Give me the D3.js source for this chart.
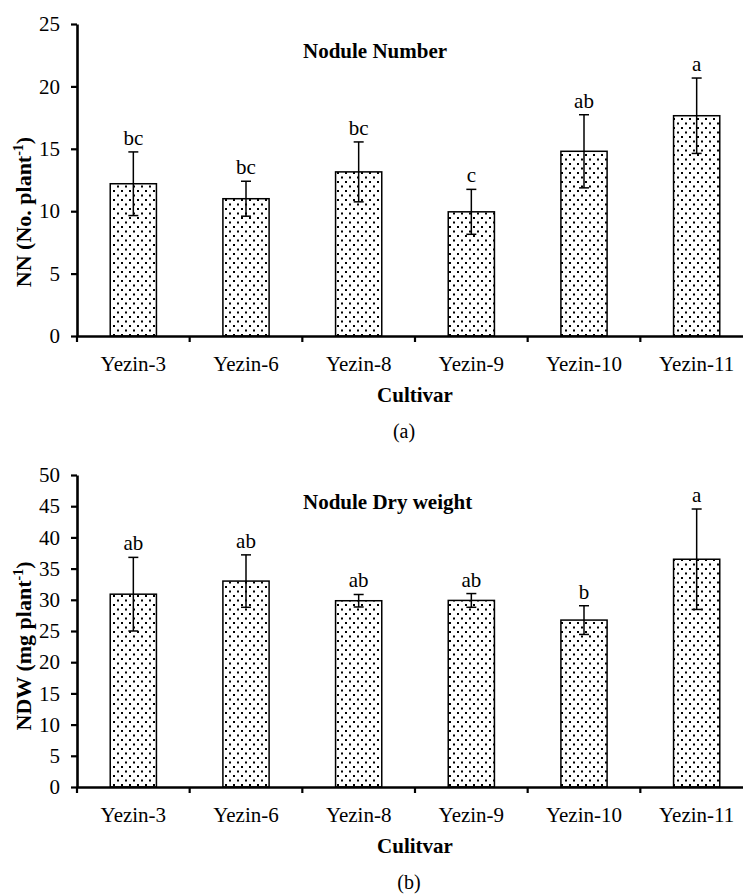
<!DOCTYPE html>
<html>
<head>
<meta charset="utf-8">
<script src="https://cdn.jsdelivr.net/npm/d3@7"></script>
<style>
  body { margin: 0; background: #fff; }
  svg { display: block; }
</style>
</head>
<body>
<svg id="chart" width="743" height="894"></svg>
<script>
const cultivars = ["Yezin-3", "Yezin-6", "Yezin-8", "Yezin-9", "Yezin-10", "Yezin-11"];

// nodule number (a)
const nnMeans = [12.2, 11.0, 13.15, 9.95, 14.8, 17.65];
const nnErrors = [2.55, 1.4, 2.4, 1.8, 2.93, 3.02];
const nnLetters = ["bc", "bc", "bc", "c", "ab", "a"];
const nnTicks = [0, 5, 10, 15, 20, 25];

// nodule dry weight (b)
const ndwMeans = [30.9, 33.0, 29.85, 29.9, 26.75, 36.5];
const ndwErrors = [5.9, 4.2, 1.0, 1.1, 2.3, 8.05];
const ndwLetters = ["ab", "ab", "ab", "ab", "b", "a"];
const ndwTicks = [0, 5, 10, 15, 20, 25, 30, 35, 40, 45, 50];

const svg = d3.select("#chart");
const font = "Liberation Serif, Tinos, Times New Roman, Times, DejaVu Serif, serif";

// dotted fill like the excel pattern
const pat = svg.append("defs").append("pattern")
  .attr("id", "dots")
  .attr("patternUnits", "userSpaceOnUse")
  .attr("width", 8)
  .attr("height", 9);
pat.append("rect").attr("width", 8).attr("height", 9).attr("fill", "#fff");
pat.append("rect").attr("x", 1).attr("y", 1).attr("width", 2).attr("height", 2).attr("fill", "#000");
pat.append("rect").attr("x", 5).attr("y", 5.5).attr("width", 2).attr("height", 2).attr("fill", "#000");

function drawPanel(p) {
  const g = svg.append("g");

  const x = d3.scaleBand()
    .domain(cultivars)
    .range([77, 753])
    .padding(0);

  const y = d3.scaleLinear()
    .domain([0, d3.max(p.ticks)])
    .range([p.bottom, p.top]);

  const barW = x.bandwidth() * 0.41;
  const data = cultivars.map((c, i) => ({ c, m: p.means[i], e: p.errors[i], l: p.letters[i] }));

  // bars
  g.selectAll("rect.bar")
    .data(data)
    .enter()
    .append("rect")
    .attr("class", "bar")
    .attr("x", d => x(d.c) + (x.bandwidth() - barW) / 2)
    .attr("y", d => y(d.m))
    .attr("width", barW)
    .attr("height", d => y(0) - y(d.m))
    .attr("fill", "url(#dots)")
    .attr("stroke", "#000")
    .attr("stroke-width", 1.5);

  // error bars
  const cx = d => x(d.c) + x.bandwidth() / 2;
  const eb = g.selectAll("g.err").data(data).enter().append("g").attr("class", "err")
    .attr("stroke", "#000").attr("stroke-width", 1.5);
  eb.append("line")
    .attr("x1", cx).attr("x2", cx)
    .attr("y1", d => y(d.m - d.e)).attr("y2", d => y(d.m + d.e));
  eb.append("line")
    .attr("x1", d => cx(d) - 5).attr("x2", d => cx(d) + 5)
    .attr("y1", d => y(d.m + d.e)).attr("y2", d => y(d.m + d.e));
  eb.append("line")
    .attr("x1", d => cx(d) - 5).attr("x2", d => cx(d) + 5)
    .attr("y1", d => y(d.m - d.e)).attr("y2", d => y(d.m - d.e));

  // significance letters
  g.selectAll("text.letter")
    .data(data)
    .enter()
    .append("text")
    .attr("class", "letter")
    .attr("x", cx)
    .attr("y", d => y(d.m + d.e) - 7)
    .attr("text-anchor", "middle")
    .style("font-family", font)
    .style("font-size", "21px")
    .text(d => d.l);

  // y axis
  const yAxisG = g.append("g")
    .attr("transform", "translate(77,0)")
    .call(d3.axisLeft(y).tickValues(p.ticks).tickSize(6).tickSizeOuter(0).tickPadding(11));
  yAxisG.select(".domain").attr("stroke-width", 2.6);
  yAxisG.selectAll(".tick line").attr("stroke-width", 2.2);
  yAxisG.selectAll(".tick text")
    .style("font-family", font)
    .style("font-size", "21px")
    .attr("fill", "#000");

  // x axis: labels at band centres, ticks on band edges
  const xAxisG = g.append("g")
    .attr("transform", `translate(0,${p.bottom})`)
    .call(d3.axisBottom(x).tickSize(0).tickSizeOuter(0));
  xAxisG.select(".domain").attr("stroke-width", 2.6);
  xAxisG.selectAll(".tick text")
    .attr("y", 35)
    .attr("dy", null)
    .style("font-family", font)
    .style("font-size", "21px")
    .attr("fill", "#000");
  xAxisG.selectAll("line.edge")
    .data(cultivars)
    .enter()
    .append("line")
    .attr("class", "edge")
    .attr("x1", d => x(d)).attr("x2", d => x(d))
    .attr("y1", 0).attr("y2", 6)
    .attr("stroke", "#000")
    .attr("stroke-width", 2.2);

  // chart title
  g.append("text")
    .attr("x", 303)
    .attr("y", p.top + 34)
    .style("font-family", font)
    .style("font-size", "21px")
    .style("font-weight", "bold")
    .text(p.title);

  // y axis title with superscript
  const yt = g.append("text")
    .attr("transform", `translate(31,${p.yTitleY}) rotate(-90)`)
    .attr("text-anchor", "middle")
    .style("font-family", font)
    .style("font-size", "22px")
    .style("font-weight", "bold");
  yt.append("tspan").text(p.yTitle);
  yt.append("tspan").style("font-size", "14px").attr("dy", -8).text("-1");
  yt.append("tspan").attr("dy", 8).text(")");

  // x axis title
  g.append("text")
    .attr("x", 415)
    .attr("y", p.bottom + 66)
    .attr("text-anchor", "middle")
    .style("font-family", font)
    .style("font-size", "21px")
    .style("font-weight", "bold")
    .text(p.xTitle);

  // panel caption
  g.append("text")
    .attr("x", p.capX)
    .attr("y", p.bottom + 102)
    .attr("text-anchor", "middle")
    .style("font-family", font)
    .style("font-size", "20px")
    .text(p.caption);
}

drawPanel({
  top: 24, bottom: 336, ticks: nnTicks,
  means: nnMeans, errors: nnErrors, letters: nnLetters,
  title: "Nodule Number", yTitle: "NN (No. plant", yTitleY: 212,
  xTitle: "Cultivar", caption: "(a)", capX: 404
});

drawPanel({
  top: 475, bottom: 787, ticks: ndwTicks,
  means: ndwMeans, errors: ndwErrors, letters: ndwLetters,
  title: "Nodule Dry weight", yTitle: "NDW (mg plant", yTitleY: 646,
  xTitle: "Culitvar", caption: "(b)", capX: 409
});
</script>
</body>
</html>
